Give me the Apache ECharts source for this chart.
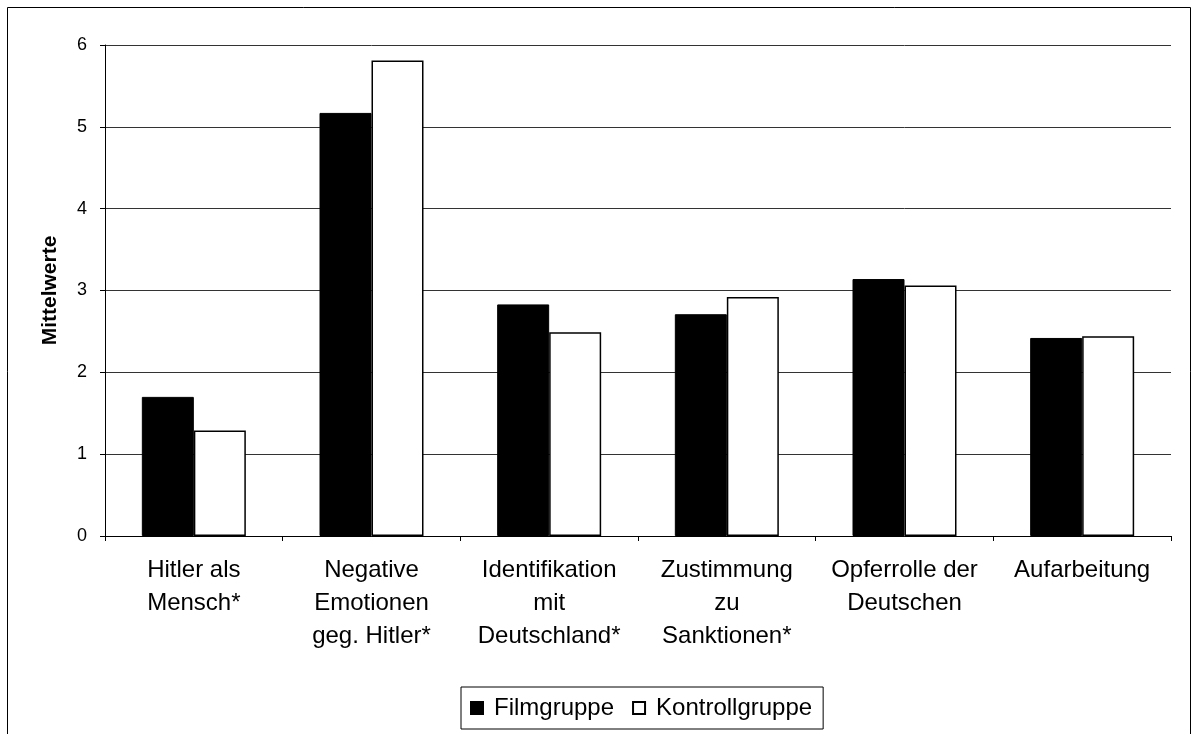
<!DOCTYPE html>
<html>
<head>
<meta charset="utf-8">
<script src="https://cdn.jsdelivr.net/npm/echarts@6/dist/echarts.min.js"></script>
<style>
html,body{margin:0;padding:0;background:#fff;}
#chart{width:1192px;height:734px;}
</style>
</head>
<body>
<div id="chart"></div>
<script>
// Kategorien und Mittelwerte
var categories = ['Hitler als\nMensch*', 'Negative\nEmotionen\ngeg. Hitler*', 'Identifikation\nmit\nDeutschland*', 'Zustimmung\nzu\nSanktionen*', 'Opferrolle der\nDeutschen', 'Aufarbeitung'];
var filmgruppe = [1.70, 5.17, 2.83, 2.71, 3.14, 2.42];
var kontrollgruppe = [1.29, 5.81, 2.49, 2.92, 3.06, 2.44];
var yTicks = [0, 1, 2, 3, 4, 5, 6];

var font = 'Liberation Sans, Arial, sans-serif';
var chart = echarts.init(document.getElementById('chart'));

var option = {
	animation: false,
	backgroundColor: '#fff',
	textStyle: { fontFamily: font, color: '#000' },
	graphic: [{
		type: 'rect',
		shape: { x: 7.5, y: 7.5, width: 1183, height: 800 },
		style: { fill: 'none', stroke: '#000', lineWidth: 1 },
		silent: true
	}],
	grid: { left: 105, right: 21, top: 45, bottom: 198, containLabel: false },
	legend: {
		bottom: 5,
		left: 461,
		itemWidth: 12,
		itemHeight: 12,
		itemGap: 18,
		padding: [9, 11, 9, 9],
		borderColor: '#000',
		borderWidth: 1,
		borderRadius: 0,
		icon: 'rect',
		textStyle: { fontFamily: font, fontSize: 24, color: '#000', padding: [0, 0, 0, 6] },
		data: ['Filmgruppe', 'Kontrollgruppe']
	},
	xAxis: {
		type: 'category',
		data: categories,
		axisLine: { lineStyle: { color: '#000', width: 1 } },
		axisTick: { show: true, length: 5, lineStyle: { color: '#000' } },
		axisLabel: {
			interval: 0,
			margin: 18,
			fontFamily: font,
			fontSize: 24,
			lineHeight: 33,
			color: '#000',
			align: 'center'
		}
	},
	yAxis: {
		type: 'value',
		min: yTicks[0],
		max: yTicks[yTicks.length - 1],
		interval: 1,
		name: 'Mittelwerte',
		nameLocation: 'middle',
		nameGap: 44,
		nameTextStyle: { fontFamily: font, fontSize: 21, fontWeight: 'bold', color: '#000' },
		axisLine: { show: true, lineStyle: { color: '#000', width: 1 } },
		axisTick: { show: true, length: 5, lineStyle: { color: '#000' } },
		axisLabel: { fontFamily: font, fontSize: 18, color: '#000', margin: 18 },
		splitLine: { show: true, lineStyle: { color: '#333', width: 1 } }
	},
	series: [{
		name: 'Filmgruppe',
		type: 'bar',
		data: filmgruppe,
		barWidth: 52,
		barGap: '0%',
		itemStyle: { color: '#000', borderColor: '#000', borderWidth: 1 }
	}, {
		name: 'Kontrollgruppe',
		type: 'bar',
		data: kontrollgruppe,
		barWidth: 52,
		barGap: '0%',
		itemStyle: { color: '#fff', borderColor: '#000', borderWidth: 1.5 }
	}]
};

chart.setOption(option);
</script>
</body>
</html>
